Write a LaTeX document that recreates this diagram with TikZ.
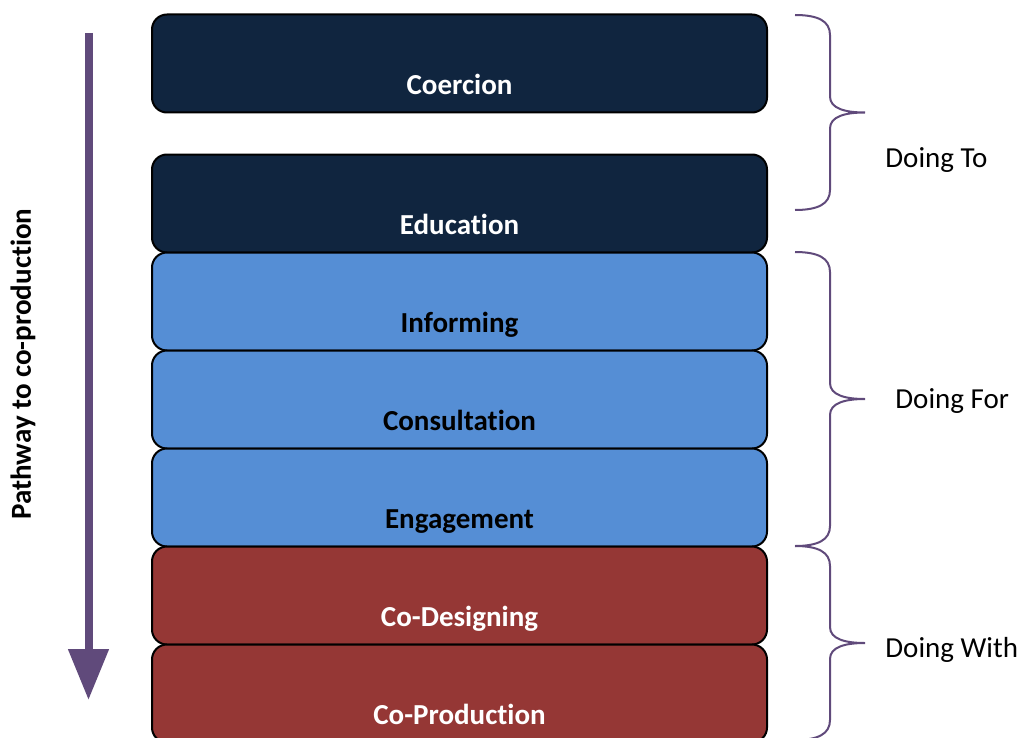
\documentclass[tikz,border=0pt]{standalone}
\usepackage{fontspec}
\setmainfont{Carlito}[Ligatures=NoCommon]
\usetikzlibrary{arrows.meta,positioning}
\definecolor{navy}{HTML}{10253F}
\definecolor{skyblue}{HTML}{558ED5}
\definecolor{brick}{HTML}{953735}
\definecolor{plum}{HTML}{604A7B}

\begin{document}
\begin{tikzpicture}[x=0.5pt, y=-0.5pt, font=\fontsize{14.5}{17}\selectfont,
    level/.style={draw=black, line width=1pt, rounded corners=7.5pt, minimum width=307.5pt,
      inner ysep=0pt, text height=40pt, text depth=9pt, font=\fontsize{14.5}{17}\selectfont\bfseries},
    bracket/.style={draw=plum, line width=1pt},
    side/.style={anchor=base west, inner sep=0pt}]
   \useasboundingbox (0,0) rectangle (1022,738);
   \clip (0,0) rectangle (1022,738);
   \begin{scope}[every node/.style={level, fill=navy, text=white}]
    \node (v1) at (459.5,63.5) {Coercion};
    \node (v2) at (459.5,203.5) {Education};
   \end{scope}
   \begin{scope}[every node/.style={level, fill=skyblue, text=black}]
    \node (v3) at (459.5,301.5) {Informing};
    \node (v4) at (459.5,399.5) {Consultation};
    \node (v5) at (459.5,497.5) {Engagement};
   \end{scope}
   \begin{scope}[every node/.style={level, fill=brick, text=white}]
    \node (v6) at (459.5,595.5) {Co-Designing};
    \node (v7) at (459.5,693.5) {Co-Production};
   \end{scope}
   \coordinate (atop) at (88.5,33);
   \coordinate (abot) at (88.5,700);
   \draw[plum, line width=4pt, -{Triangle[width=19.5pt,length=25.5pt]}] (atop) -- (abot);
   \node[rotate=90, anchor=base, font=\fontsize{14.5}{17}\selectfont\bfseries] (path) at (31,364) {Pathway to co-production};
   \foreach \yt/\yb in {15/210, 252/546, 546/740} {
    \pgfmathsetmacro{\ym}{(\yt+\yb)/2}
    \draw[bracket] (795,\yt) .. controls (818,\yt) and (830,\yt+6) .. (830,\yt+20)
      -- (830,\ym-16) .. controls (830,\ym-4) and (845,\ym) .. (865,\ym)
      .. controls (845,\ym) and (830,\ym+4) .. (830,\ym+16)
      -- (830,\yb-20) .. controls (830,\yb-6) and (818,\yb) .. (795,\yb);
   }
   \node[side] (to) at (885,168) {Doing To};
   \node[side] (for) at (895,408) {Doing For};
   \node[side] (with) at (885,657) {Doing With};
\end{tikzpicture}
\end{document}
